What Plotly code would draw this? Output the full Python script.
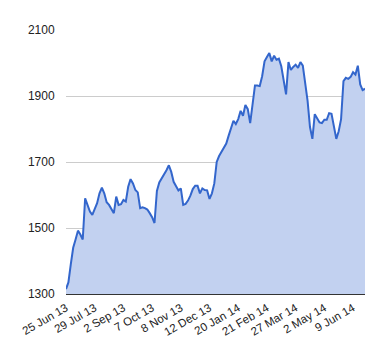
import plotly.graph_objects as go

# trading-day index (every 2nd trading day) and closing values
day_index = list(range(0, 252, 2))
values = [
    1315, 1335, 1390, 1440, 1465, 1492, 1480, 1465, 1590, 1568,
    1550, 1540, 1560, 1575, 1605, 1622, 1605, 1578, 1570, 1558,
    1545, 1595, 1570, 1572, 1585, 1580, 1625, 1648, 1635, 1615,
    1608, 1560, 1563, 1560, 1556, 1545, 1533, 1515, 1612, 1638,
    1650, 1660, 1675, 1690, 1670, 1640, 1625, 1614, 1620, 1570,
    1573, 1583, 1598, 1618, 1628, 1628, 1605, 1620, 1615, 1614,
    1588, 1605, 1635, 1700, 1718, 1730, 1745, 1756, 1780, 1800,
    1825, 1815, 1830, 1855, 1840, 1873, 1860, 1818, 1880, 1932,
    1932, 1930, 1960, 2005, 2018, 2030, 2005, 2022, 2010, 2013,
    1990, 1945, 1905, 2003, 1979, 1988, 1995, 1985, 2003, 1992,
    1940, 1885, 1806, 1770, 1845, 1830, 1820, 1818, 1828, 1828,
    1848, 1846, 1805, 1770, 1793, 1830, 1945, 1955, 1952, 1958,
    1972, 1965, 1992, 1935, 1918, 1922,
]

tick_positions = list(range(0, 241, 24))
tick_labels = ["25 Jun 13", "29 Jul 13", "2 Sep 13", "7 Oct 13", "8 Nov 13",
               "12 Dec 13", "20 Jan 14", "21 Feb 14", "27 Mar 14", "2 May 14",
               "9 Jun 14"]
y_ticks = [1300, 1500, 1700, 1900, 2100]

fig = go.Figure()
fig.add_trace(go.Scatter(
    x=day_index, y=values, mode="lines",
    line=dict(color="#3366cc", width=2),
    fill="tozeroy", fillcolor="#c2d1f0",
    hoverinfo="skip",
))

font = dict(family="Liberation Sans, Arial, sans-serif", size=12, color="#222222")
fig.update_layout(
    width=380, height=360,
    margin=dict(l=55, r=23, t=22, b=74),
    paper_bgcolor="white", plot_bgcolor="white",
    showlegend=False,
    font=font,
    xaxis=dict(
        range=[0, 250], tickmode="array", tickvals=tick_positions, ticktext=tick_labels,
        tickangle=-30, showgrid=False, zeroline=False,
        showline=True, linecolor="#333333", linewidth=1,
        ticks="outside", ticklen=2, tickcolor="rgba(0,0,0,0)",
        tickfont=dict(size=11.5, color="#222222", family="Liberation Sans, Arial, sans-serif"),
    ),
    yaxis=dict(
        range=[1300, 2100], tickmode="array", tickvals=y_ticks,
        showgrid=True, gridcolor="#cccccc", gridwidth=1, zeroline=False,
        ticks="outside", ticklen=8, tickcolor="rgba(0,0,0,0)",
        tickfont=dict(size=12, color="#222222", family="Liberation Sans, Arial, sans-serif"),
    ),
)

fig.write_html("out.html")
